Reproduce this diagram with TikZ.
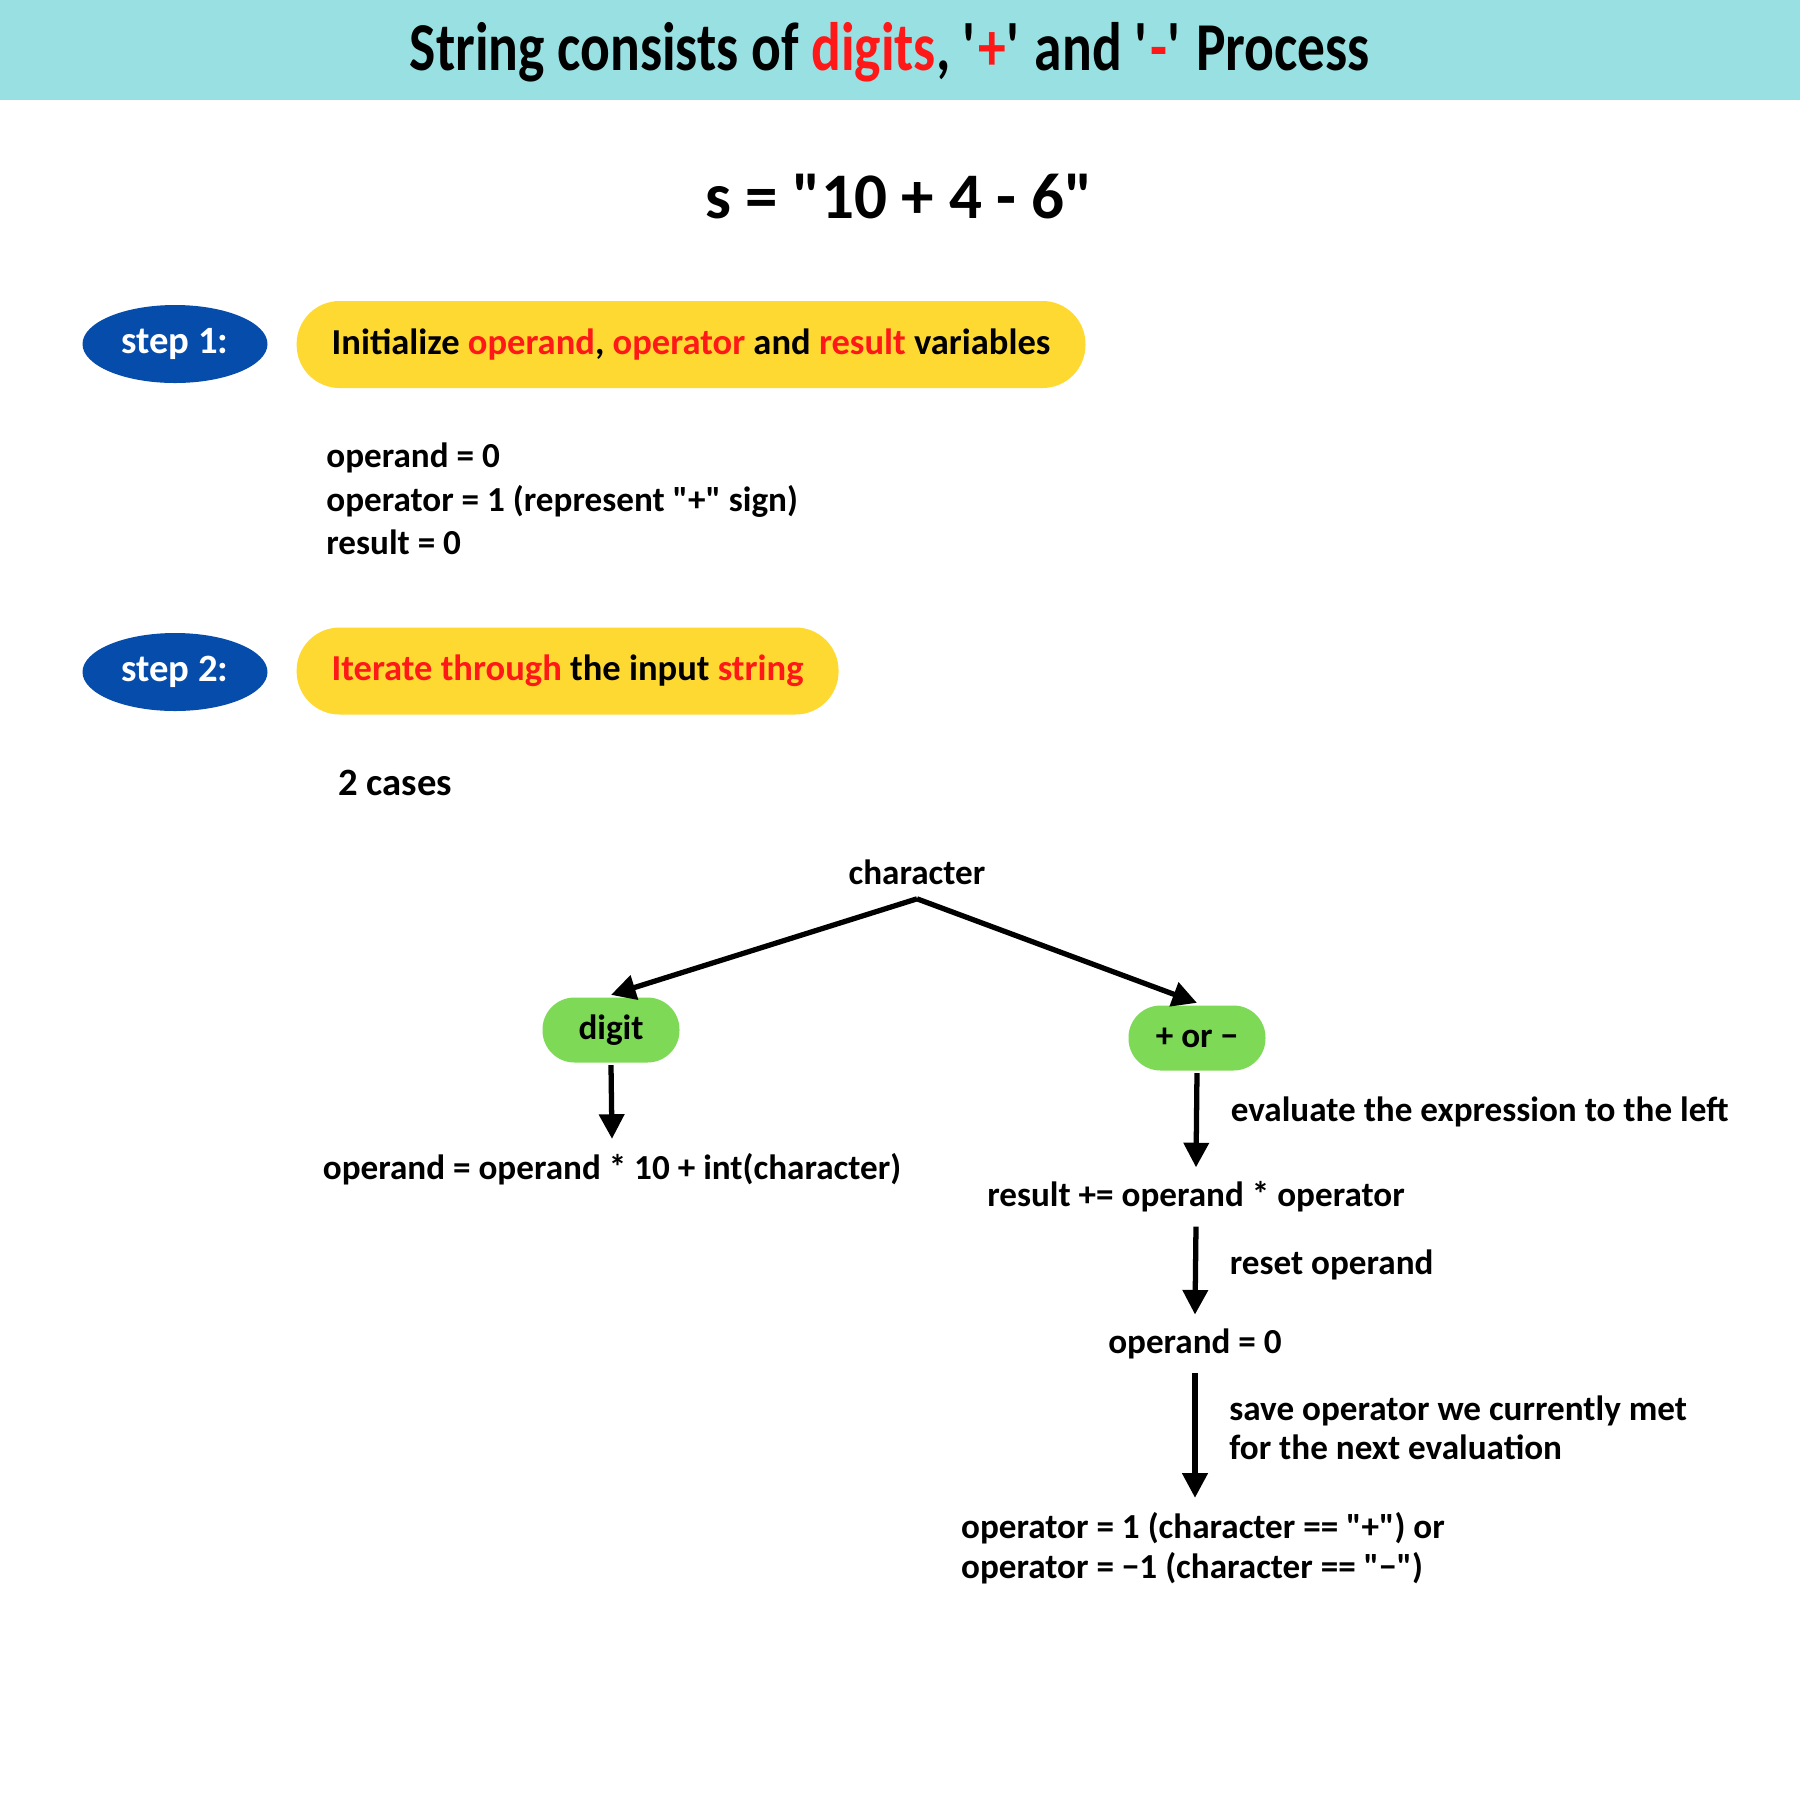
\documentclass[tikz,border=0pt]{standalone}
\usepackage{fontspec}
\setmainfont{Carlito}
\newfontfamily\titlefont[FakeStretch=0.81]{Carlito}
\usetikzlibrary{arrows.meta,shapes.geometric}

\definecolor{headcyan}{RGB}{152,224,226}
\definecolor{stepblue}{RGB}{6,76,170}
\definecolor{taskyellow}{RGB}{254,217,50}
\definecolor{casegreen}{RGB}{126,217,87}
\definecolor{hotred}{RGB}{255,24,24}

\newcommand{\hl}[1]{\textcolor{hotred}{#1}}
\newcommand{\dq}{\textquotedbl}

\begin{document}
\begin{tikzpicture}[>={Triangle[length=7pt,width=7pt]},line width=1.5pt,
    txt/.style={font=\fontsize{10}{12}\selectfont\bfseries},
    stepblob/.style={ellipse,fill=stepblue,text=white,inner sep=0pt,
        minimum width=1.85cm,minimum height=0.78cm,font=\fontsize{11}{13}\selectfont\bfseries},
    task/.style={rectangle,rounded corners=0.43cm,fill=taskyellow,anchor=west,
        minimum height=0.87cm,inner xsep=0.35cm,font=\fontsize{10.4}{12}\selectfont\bfseries},
    casebox/.style={rectangle,rounded corners=0.32cm,fill=casegreen,
        minimum width=1.37cm,minimum height=0.65cm,txt}]

    % page and header band
    \fill[white] (0,0) rectangle (18,-18);
    \useasboundingbox (0,0) rectangle (18,-18);
    \fill[headcyan] (0,0) rectangle (18,-1.0);
    \node (title) at (8.90,-0.52) {\titlefont\fontsize{19.5}{22}\selectfont\bfseries
        String consists of \hl{digits}, \textquotesingle\hl{+}\textquotesingle{} and
        \textquotesingle\hl{-}\textquotesingle{} Process};

    % input string
    \node (input) at (8.99,-1.97) {\fontsize{18.5}{22}\selectfont\bfseries s = \dq10 + 4 - 6\dq};

    % step 1
    \node[stepblob] (s1) at (1.75,-3.44) {step 1:};
    \node[task] (t1) at (2.94,-3.445) {Initialize \hl{operand}, \hl{operator} and \hl{result} variables};
    \node[txt,anchor=west,align=left,font=\fontsize{10}{12.3}\selectfont\bfseries] (init) at (3.12,-4.99)
        {operand = 0\\operator = 1 (represent \dq+\dq{} sign)\\result = 0};

    % step 2
    \node[stepblob] (s2) at (1.75,-6.72) {step 2:};
    \node[task] (t2) at (2.94,-6.71) {\hl{Iterate through} the input \hl{string}};
    \node[txt,anchor=west] (cases) at (3.24,-7.83) {\fontsize{11}{13}\selectfont 2 cases};

    % the two cases
    \node[txt] (char) at (9.17,-8.72) {character};
    \node[casebox] (digit) at (6.11,-10.30) {digit};
    \node[casebox] (sign) at (11.97,-10.38) {+ or −};
    \draw[->] (char.south) -- (digit.north);
    \draw[->] (char.south) -- (sign.north);

    % digit branch
    \node[txt] (upd) at (6.12,-11.69) {operand = operand * 10 + int(character)};
    \draw[->] (digit.south) -- (upd.north);

    % sign branch
    \node[txt] (res) at (11.96,-11.97) {result += operand * operator};
    \node[txt] (zero) at (11.95,-13.44) {operand = 0};
    \node[txt,align=left,font=\fontsize{10}{11.4}\selectfont\bfseries] (opset) at (12.03,-15.48)
        {operator = 1 (character == \dq+\dq) or\\operator = −1 (character == \dq−\dq)};
    \draw[->] (sign.south) -- node[txt,anchor=west,xshift=0.2cm,yshift=0.08cm] (ev) {evaluate the expression to the left} (res.north);
    \draw[->] (res.south) -- node[txt,anchor=west,xshift=0.2cm,yshift=0.06cm] (rst) {reset operand} (zero.north);
    \draw[->] (zero.south) -- node[txt,anchor=west,align=left,xshift=0.2cm,yshift=0.08cm,
        font=\fontsize{10}{11.2}\selectfont\bfseries] (sv) {save operator we currently met\\for the next evaluation}
        (zero.south |- opset.north);
\end{tikzpicture}
\end{document}
